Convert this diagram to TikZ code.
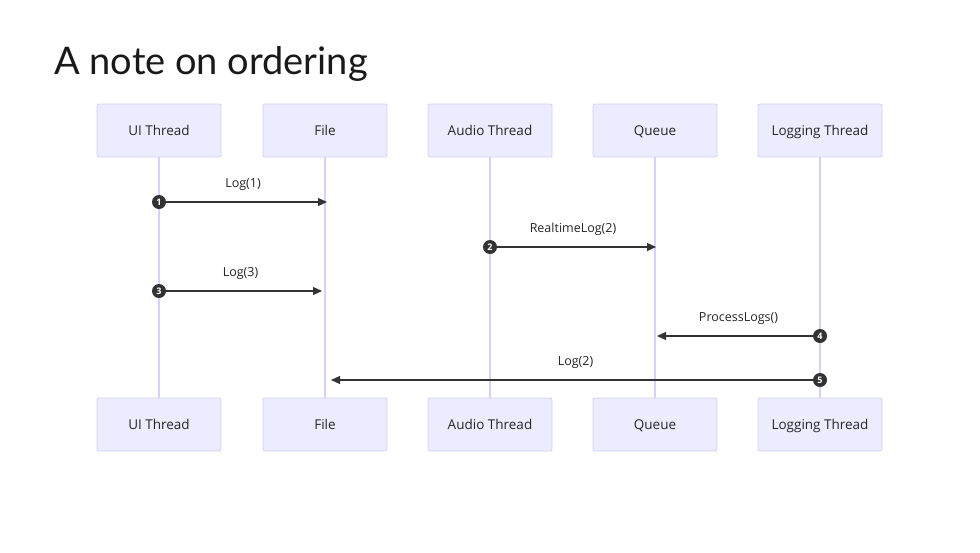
\documentclass[tikz,border=0pt]{standalone}
\usepackage{fontspec}
\setmainfont{Open Sans}
\newfontfamily\titlefont{Lato}
\usetikzlibrary{arrows.meta}
\definecolor{actfill}{HTML}{ECECFF}
\definecolor{actline}{HTML}{D6D0F5}
\definecolor{lifeline}{HTML}{D8D0F8}
\definecolor{msgline}{HTML}{333333}
\tikzset{
  actor/.style={draw=actline, fill=actfill, rounded corners=2pt, line width=0.8pt,
    minimum width=124pt, minimum height=53pt, inner sep=0pt,
    text height=10pt, text depth=0pt,
    font=\fontsize{13.5}{15}\selectfont, text=black!85},
  life/.style={draw=lifeline, line width=1.2pt},
  msg/.style={draw=msgline, line width=1.2pt, -{Triangle[length=9pt,width=8pt]}},
  msglabel/.style={font=\fontsize{12.5}{14}\selectfont, text=black!85, inner sep=0pt},
  seqnum/.style={circle, fill=msgline, text=white, minimum size=14pt, inner sep=0pt,
    font=\fontsize{9}{10}\bfseries\selectfont},
}
\begin{document}
\begin{tikzpicture}[x=1pt,y=-1pt]
\useasboundingbox (0,0) rectangle (980,552);
\fill[white] (0,0) rectangle (980,552);

\node[anchor=base west, inner sep=0pt, font=\titlefont\fontsize{38}{42}\selectfont, text=black!90] (title) at (54,74) {A note on ordering};

% actors, top and bottom
\foreach \n/\x/\t in {ui/159/UI Thread, file/325/File, audio/490/Audio Thread, queue/655/Queue, log/820/Logging Thread}{
  \node[actor] (\n top) at (\x,130.5) {\t};
  \node[actor] (\n bot) at (\x,424.5) {\t};
}
% lifelines
\foreach \n in {ui,file,audio,queue,log}{
  \draw[life] (\n top.south) -- (\n bot.north);
}

% message end points
\coordinate (m1s) at (159,202);  \coordinate (m1e) at (327,202);
\coordinate (m2s) at (490,247);  \coordinate (m2e) at (656,247);
\coordinate (m3s) at (159,291);  \coordinate (m3e) at (322,291);
\coordinate (m4s) at (820,336);  \coordinate (m4e) at (657,336);
\coordinate (m5s) at (820,380);  \coordinate (m5e) at (331,380);

\draw[msg] (m1s) -- (m1e) node[msglabel, midway, above=11pt] (l1) {Log(1)};
\draw[msg] (m2s) -- (m2e) node[msglabel, midway, above=11pt] (l2) {RealtimeLog(2)};
\draw[msg] (m3s) -- (m3e) node[msglabel, midway, above=11pt] (l3) {Log(3)};
\draw[msg] (m4s) -- (m4e) node[msglabel, midway, above=11pt] (l4) {ProcessLogs()};
\draw[msg] (m5s) -- (m5e) node[msglabel, midway, above=11pt] (l5) {Log(2)};

% sequence numbers on the sender lifelines
\node[seqnum] (n1) at (m1s) {1};
\node[seqnum] (n2) at (m2s) {2};
\node[seqnum] (n3) at (m3s) {3};
\node[seqnum] (n4) at (m4s) {4};
\node[seqnum] (n5) at (m5s) {5};
\end{tikzpicture}
\end{document}
